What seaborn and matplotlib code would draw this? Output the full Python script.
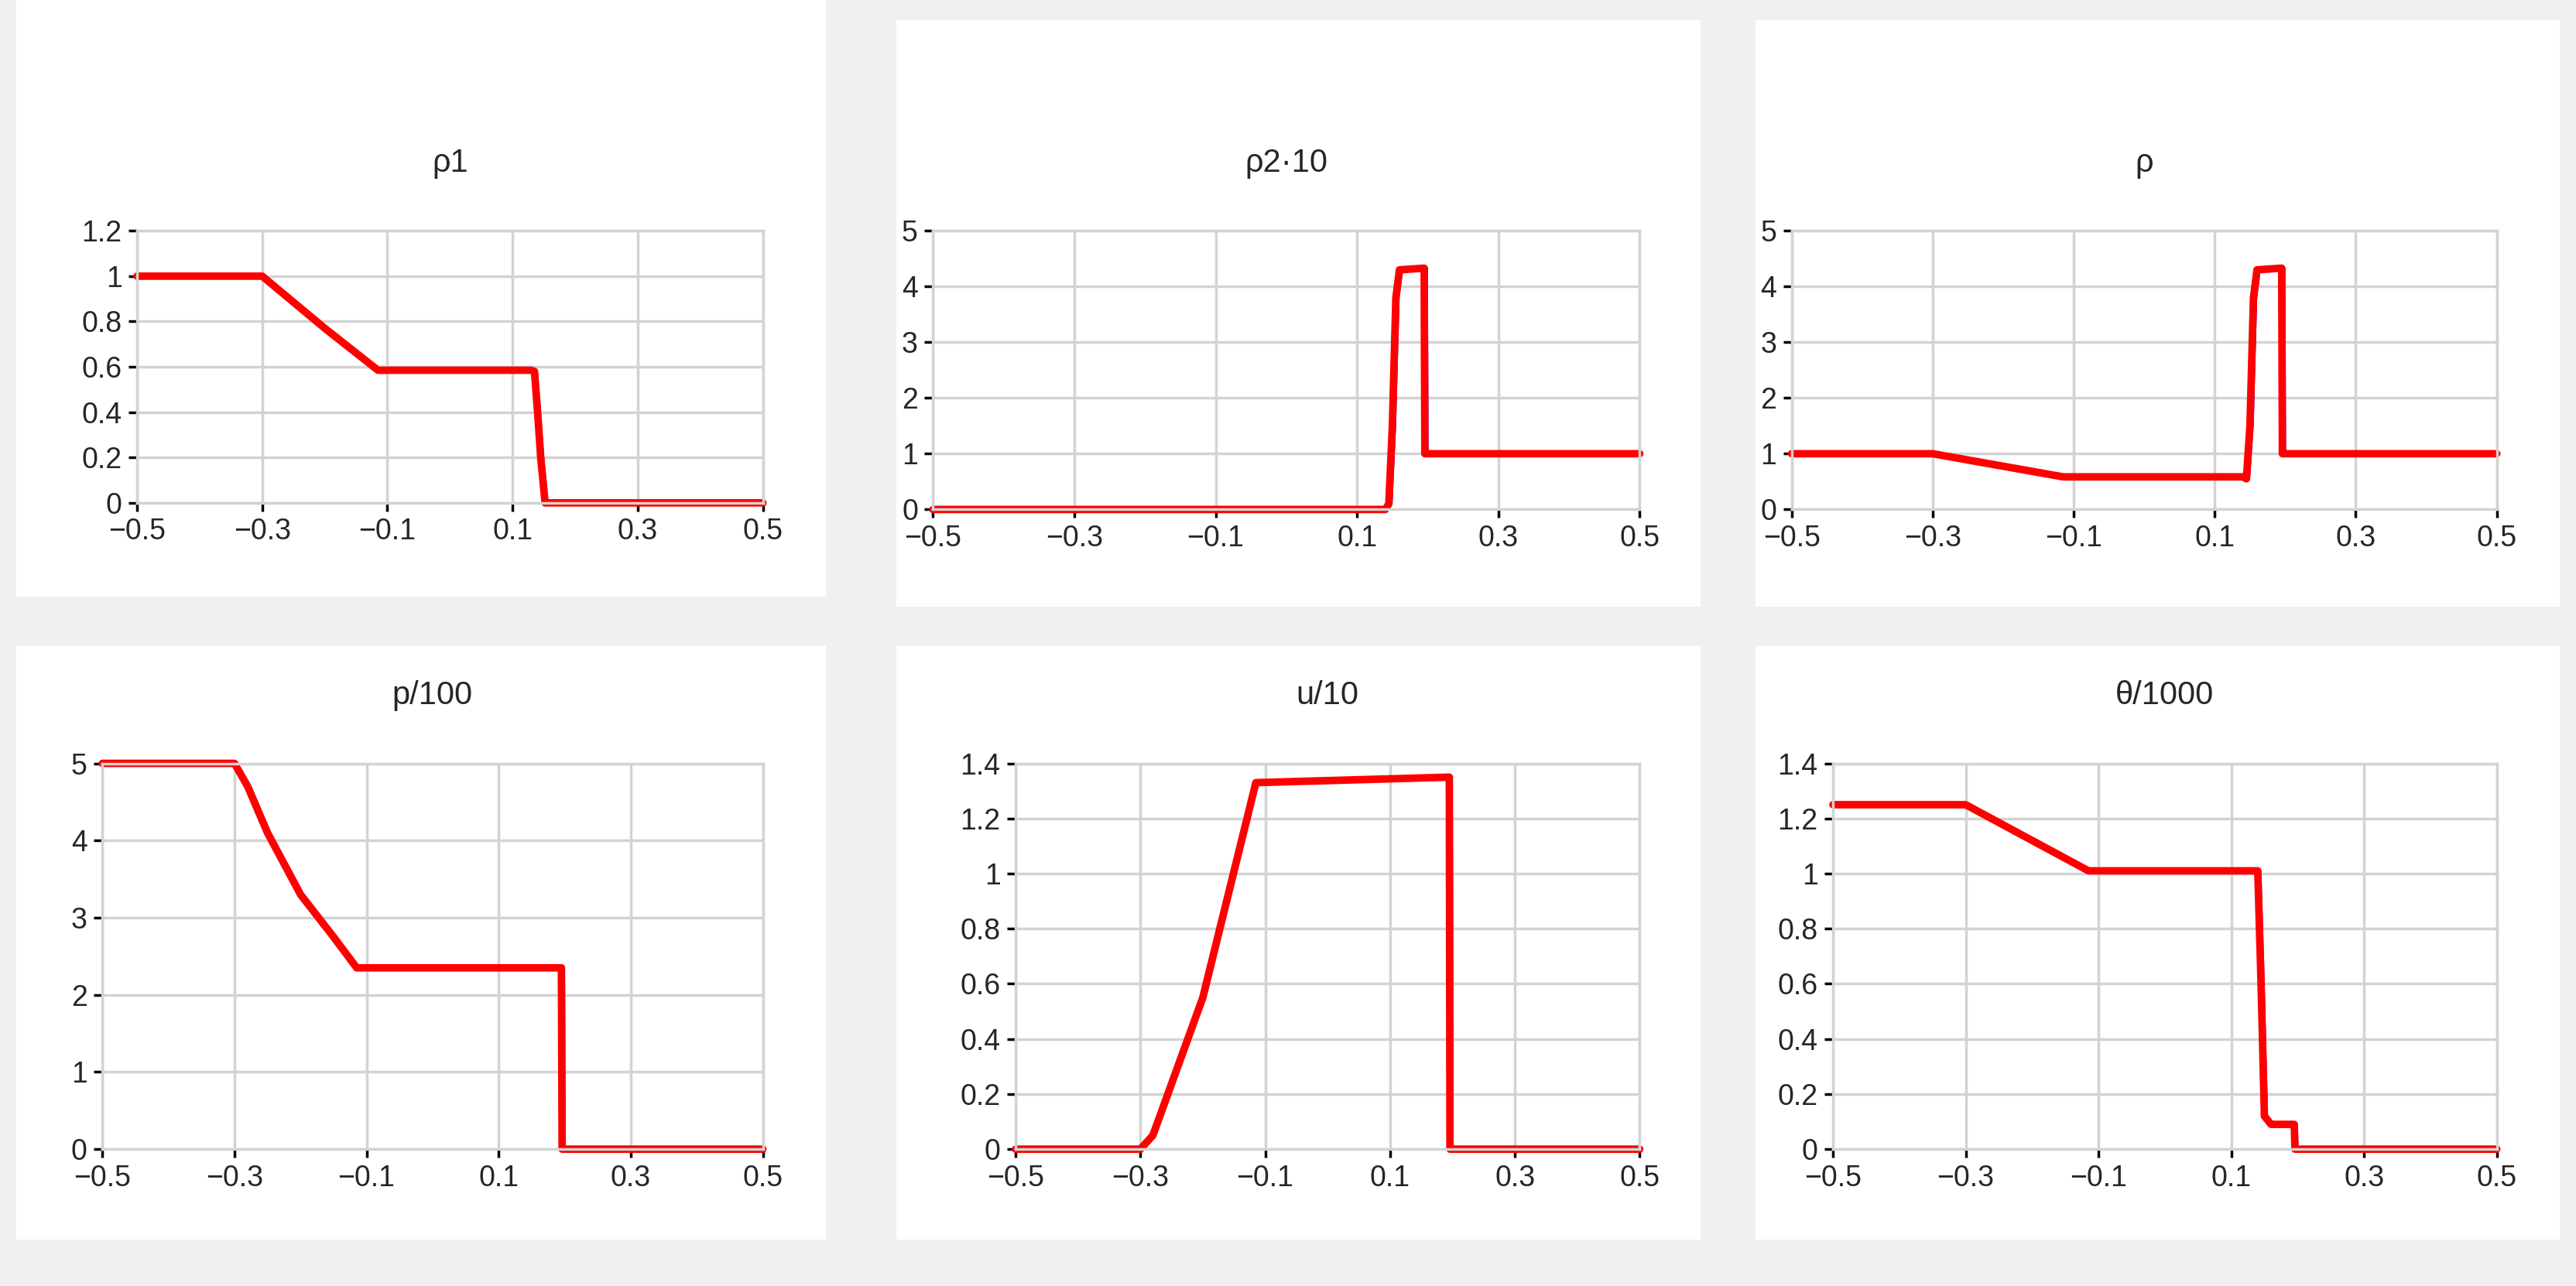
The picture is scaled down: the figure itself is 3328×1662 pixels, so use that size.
import matplotlib
matplotlib.use("Agg")
import matplotlib.pyplot as plt
import seaborn as sns
import numpy as np
import pandas as pd
from matplotlib.patches import Rectangle

sns.set_style("whitegrid")
plt.rcParams['font.family'] = ['Liberation Sans Narrow', 'Liberation Sans', 'DejaVu Sans']

titles = ["ρ1", "ρ2·10", "ρ", "p/100", "u/10", "θ/1000"]
xticks = [-0.5, -0.3, -0.1, 0.1, 0.3, 0.5]

x_rho1 = [-0.5, -0.3, -0.2, -0.115, 0.13, 0.135, 0.14, 0.145, 0.152, 0.5]
y_rho1 = [1, 1, 0.77, 0.585, 0.585, 0.58, 0.4, 0.2, 0, 0]
x_rho2 = [-0.5, 0.14, 0.145, 0.15, 0.155, 0.16, 0.195, 0.196, 0.5]
y_rho2 = [0, 0, 0.1, 1.5, 3.8, 4.3, 4.33, 1, 1]
x_rho = [-0.5, -0.3, -0.115, 0.14, 0.145, 0.15, 0.155, 0.16, 0.195, 0.196, 0.5]
y_rho = [1, 1, 0.585, 0.585, 0.55, 1.5, 3.8, 4.3, 4.33, 1, 1]
x_p = [-0.5, -0.3, -0.28, -0.25, -0.2, -0.15, -0.115, 0.195, 0.196, 0.5]
y_p = [5, 5, 4.7, 4.1, 3.3, 2.75, 2.35, 2.35, 0, 0]
x_u = [-0.5, -0.3, -0.28, -0.2, -0.115, 0.195, 0.196, 0.5]
y_u = [0, 0, 0.05, 0.55, 1.33, 1.35, 0, 0]
x_t = [-0.5, -0.3, -0.115, 0.14, 0.145, 0.15, 0.16, 0.195, 0.196, 0.5]
y_t = [1.25, 1.25, 1.01, 1.01, 0.6, 0.12, 0.09, 0.09, 0, 0]

series = [(x_rho1, y_rho1), (x_rho2, y_rho2), (x_rho, y_rho),
          (x_p, y_p), (x_u, y_u), (x_t, y_t)]
yticks = [np.arange(0, 1.21, 0.2), range(0, 6), range(0, 6),
          range(0, 6), np.arange(0, 1.41, 0.2), np.arange(0, 1.41, 0.2)]

W, H = 1560, 780  # layout measured in reduced coords
fig = plt.figure(figsize=(33.28, 16.62), dpi=100, facecolor='#f0f0f0')
panels = [(10, 0, 500, 362), (543, 12, 1030, 368), (1063, 12, 1550, 368),
          (10, 392, 500, 752), (543, 392, 1030, 752), (1063, 392, 1550, 752)]
axes_px = [(83, 140, 462, 305), (565, 140, 993, 309), (1085, 140, 1512, 309),
           (62, 463, 462, 697), (615, 463, 993, 697), (1110, 463, 1512, 697)]

def fmt(v):
    s = f"{v:g}"
    return s.replace('-', '\u2212')

for i in range(6):
    l, t, r, b = panels[i]
    rect = Rectangle((l / W, 1 - b / H), (r - l) / W, (b - t) / H,
                     transform=fig.transFigure, facecolor='white',
                     edgecolor='none', zorder=-5)
    fig.add_artist(rect)
    l, t, r, b = axes_px[i]
    ax = fig.add_axes([l / W, 1 - b / H, (r - l) / W, (b - t) / H])
    x, y = series[i]
    df = pd.DataFrame({"x": x, "y": y})
    df2 = pd.DataFrame({"x": np.array(x) + 0.003, "y": y})
    sns.lineplot(data=df2, x="x", y="y", ax=ax, color='blue', linewidth=3,
                 estimator=None, sort=False)
    sns.lineplot(data=df, x="x", y="y", ax=ax, color='red', linewidth=7,
                 estimator=None, sort=False)
    yt = list(yticks[i])
    ax.set_xlim(-0.5, 0.5)
    ax.set_ylim(0, yt[-1])
    ax.set_xticks(xticks)
    ax.set_xticklabels([fmt(v) for v in xticks])
    ax.set_yticks(yt)
    ax.set_yticklabels([fmt(round(v, 1)) for v in yt])
    ax.set_xlabel("")
    ax.set_ylabel("")
    ax.grid(color='#d3d3d3', linewidth=2.5)
    for s in ax.spines.values():
        s.set_color('#d3d3d3')
        s.set_linewidth(2.5)
    ax.tick_params(axis='both', labelsize=27, length=8, width=2.5, color='black',
                   direction='out', left=True, bottom=True, pad=6)
    ax.set_facecolor('white')
    for ln in ax.lines:
        ln.set_clip_on(False)
    ax.set_title(titles[i], fontsize=30, pad=55)

fig.savefig("out.png", facecolor=fig.get_facecolor())
